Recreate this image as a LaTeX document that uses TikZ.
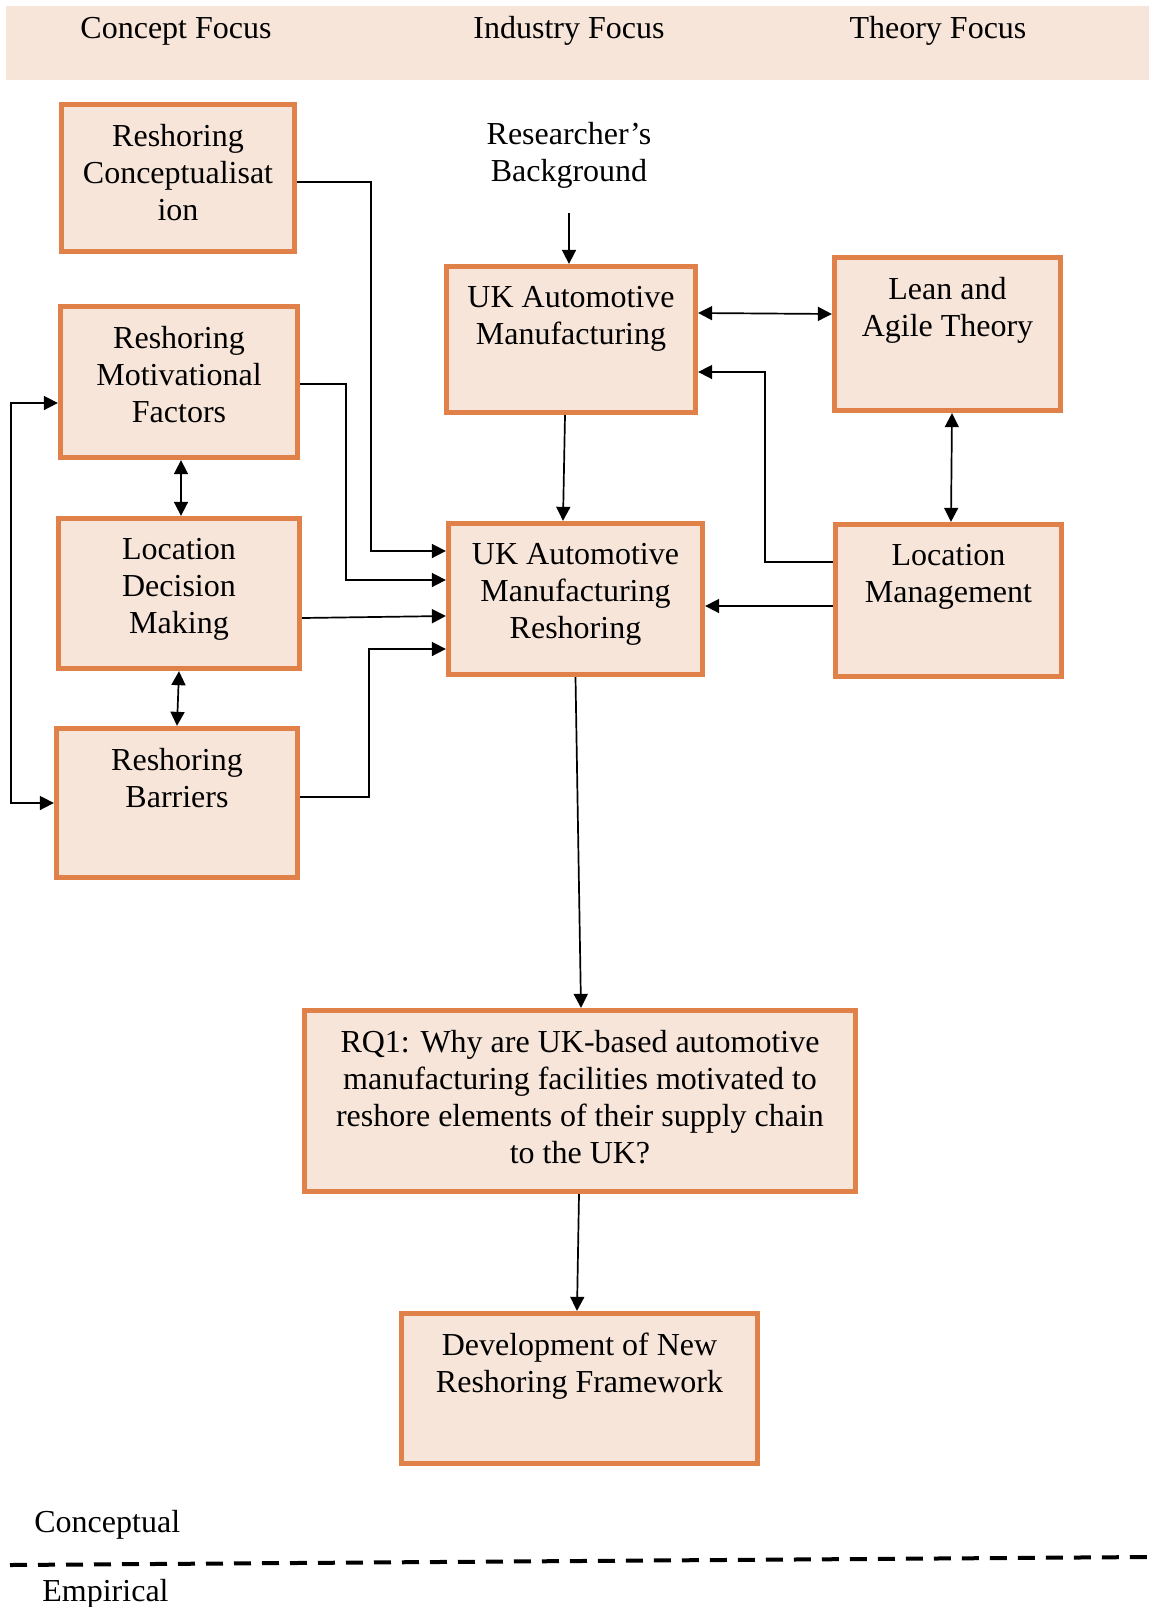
\documentclass[tikz,border=0pt]{standalone}
\usepackage{fontspec}
\setmainfont{Liberation Serif}
\usetikzlibrary{arrows.meta}
\definecolor{boxfill}{RGB}{248,229,217}
\definecolor{boxline}{RGB}{224,129,73}
\begin{document}
\begin{tikzpicture}[x=0.5pt,y=-0.5pt,
  box/.style={draw=boxline, fill=boxfill, line width=2.4pt, inner sep=0pt},
  boxtext/.style={anchor=north, align=center, inner sep=0pt,
    font=\fontsize{16}{18.5}\selectfont, execute at begin node=\strut},
  plain/.style={inner sep=0pt, font=\fontsize{16}{18.5}\selectfont},
  conn/.style={line width=0.85pt, -{Triangle[length=7pt,width=7pt]}},
  both/.style={line width=0.85pt, {Triangle[length=7pt,width=7pt]}-{Triangle[length=7pt,width=7pt]}},
]
\useasboundingbox (0,0) rectangle (1149,1607);

% column headings
\fill[boxfill] (6,6) rectangle (1149,80);
\node[plain, anchor=base] (h1) at (176,38) {Concept Focus};
\node[plain, anchor=base] (h2) at (569,38) {Industry Focus};
\node[plain, anchor=base] (h3) at (938,38) {Theory Focus};

% boxes
\node[box, minimum width=116.5pt, minimum height=73.5pt]  (A) at (178,178) {};
\node[box, minimum width=118.75pt, minimum height=75.75pt] (B) at (179,382) {};
\node[box, minimum width=120.75pt, minimum height=75.25pt] (C) at (179,593.5) {};
\node[box, minimum width=120.75pt, minimum height=74.75pt] (D) at (177,803) {};
\node[box, minimum width=124.75pt, minimum height=73.25pt] (E) at (571,339.5) {};
\node[box, minimum width=113.25pt, minimum height=76.75pt] (F) at (947.5,334) {};
\node[box, minimum width=127.25pt, minimum height=75.75pt] (G) at (575.5,599) {};
\node[box, minimum width=113.25pt, minimum height=76.25pt] (H) at (948.5,600.5) {};
\node[box, minimum width=275.75pt, minimum height=90.75pt] (I) at (580,1101) {};
\node[box, minimum width=178.25pt, minimum height=75.25pt] (J) at (579.5,1388.5) {};

% box texts
\node[boxtext] (At) at ([yshift=-11pt]A.north) {Reshoring\\Conceptualisat\\ion};
\node[boxtext] (Bt) at ([yshift=-11pt]B.north) {Reshoring\\Motivational\\Factors};
\node[boxtext] (Ct) at ([yshift=-11pt]C.north) {Location\\Decision\\Making};
\node[boxtext] (Dt) at ([yshift=-11pt]D.north) {Reshoring\\Barriers};
\node[boxtext] (Et) at ([yshift=-11pt]E.north) {UK Automotive\\Manufacturing};
\node[boxtext] (Ft) at ([yshift=-11pt]F.north) {Lean and\\Agile Theory};
\node[boxtext] (Gt) at ([yshift=-11pt]G.north) {UK Automotive\\Manufacturing\\Reshoring};
\node[boxtext] (Ht) at ([yshift=-11pt]H.north) {Location\\Management};
\node[boxtext] (It) at ([yshift=-11pt]I.north) {RQ1: Why are UK-based automotive\\manufacturing facilities motivated to\\reshore elements of their supply chain\\to the UK?};
\node[boxtext] (Jt) at ([yshift=-11pt]J.north) {Development of New\\Reshoring Framework};

% researcher's background
\node[boxtext] (R) at (569,122) {Researcher’s\\Background};
\coordinate (Rb) at (569,213);
\draw[conn] (Rb) -- ([xshift=-1pt]E.north);

% concept column into the reshoring box
\draw[conn] ([yshift=-2pt]A.east) -| (371,551) -- ([yshift=24pt]G.west);
\draw[conn] ([yshift=-1pt]B.east) -| (346,580) -- ([yshift=9.5pt]G.west);
\draw[conn] ([yshift=-12.25pt]C.east) -- ([yshift=-8.5pt]G.west);
\draw[conn] ([yshift=3pt]D.east) -| (369,649) -- ([yshift=-25pt]G.west);

% links within the concept column
\draw[both] ([xshift=1pt]B.south) -- ([xshift=1pt]C.north);
\draw[both] (C.south) -- (D.north);
\draw[both] ([yshift=-10.5pt]B.west) -| (11,803) -- (D.west);

% industry and theory links
\draw[both] ([yshift=13.25pt]E.east) -- ([yshift=10pt]F.west);
\draw[conn] ([yshift=19.25pt]H.west) -| (765,372) -- ([yshift=-16.25pt]E.east);
\draw[both] ([xshift=2.25pt]F.south) -- ([xshift=1.25pt]H.north);
\draw[conn] ([yshift=-2.75pt]H.west) -- ([yshift=-3.5pt]G.east);
\draw[conn] ([xshift=-3pt]E.south) -- ([xshift=-6.25pt]G.north);

% down to the research question and framework
\draw[conn] (G.south) -- ([xshift=0.5pt]I.north);
\draw[conn] ([xshift=-0.5pt]I.south) -- ([xshift=-1.25pt]J.north);

% conceptual / empirical divide
\node[plain, anchor=base west] (cl) at (34,1532) {Conceptual};
\coordinate (dl) at (10,1565);
\coordinate (dr) at (1149,1557);
\draw[line width=2pt, dash pattern=on 8.5pt off 5.5pt] (dl) -- (dr);
\node[plain, anchor=base west] (el) at (42,1601) {Empirical};
\end{tikzpicture}
\end{document}
